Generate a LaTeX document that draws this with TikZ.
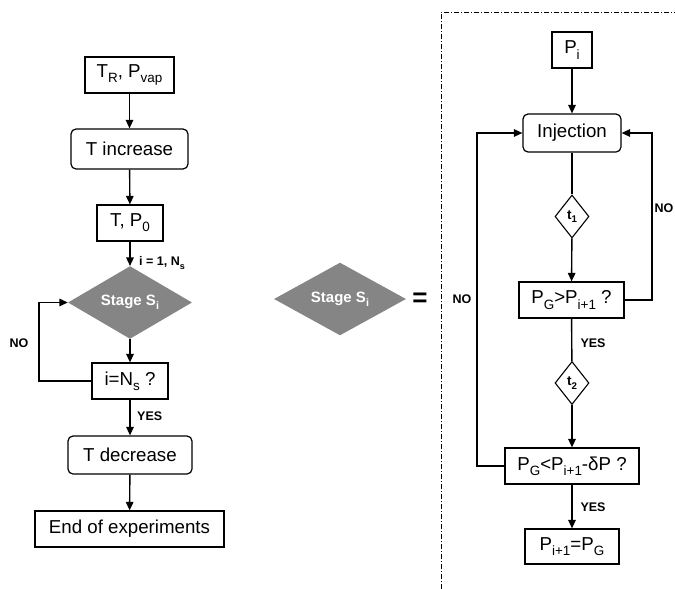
\documentclass[tikz,border=0pt]{standalone}
\usepackage{fontspec}
\setmainfont{Liberation Sans}
\usetikzlibrary{shapes.geometric,arrows.meta}
\newcommand\lo[1]{\raisebox{-0.28em}{\scalebox{0.72}{#1}}}
\begin{document}
\begin{tikzpicture}[x=1pt,y=-1pt,
  every node/.style={inner sep=0pt, font=\fontsize{18.7}{20}\selectfont},
  sq/.style={draw, line width=1.2pt, rectangle},
  rnd/.style={draw, line width=1.2pt, rectangle, rounded corners=5pt},
  stg/.style={diamond, fill=black!48, draw=none, text=white, font=\fontsize{15}{16}\selectfont\bfseries},
  tdia/.style={diamond, draw, line width=1.1pt, minimum width=34pt, minimum height=43pt, font=\fontsize{13.5}{14}\selectfont\bfseries},
  lbl/.style={font=\fontsize{12.5}{13}\selectfont\bfseries},
  arr/.style={line width=1.4pt, -{Triangle[length=8.5pt,width=7.5pt]}},
  ln/.style={line width=1.4pt}]
\useasboundingbox (0,0) rectangle (675,589);
% left column
\node[sq, minimum width=89pt, minimum height=36pt] (trp) at (129.5,75) {T\lo{R}, P\lo{vap}};
\node[rnd, minimum width=117pt, minimum height=40pt] (tinc) at (129.5,149) {T increase};
\node[sq, minimum width=66pt, minimum height=36pt] (tp0) at (130,223) {T, P\lo{0}};
\node[stg, minimum width=124pt, minimum height=49pt] (stage) at (130,302.5) {Stage S\lo{i}};
\node[sq, minimum width=76pt, minimum height=36pt] (ins) at (130,381) {i=N\lo{s} ?};
\node[rnd, minimum width=124pt, minimum height=38pt] (tdec) at (130,455) {T decrease};
\node[sq, minimum width=189pt, minimum height=36pt] (end) at (129.5,529) {End of experiments};
\draw[arr] (trp) -- (tinc);
\draw[arr] (tinc) -- (tp0);
\draw[arr] (tp0) -- (stage);
\draw[arr] (stage) -- (ins);
\draw[arr] (ins) -- (tdec);
\draw[arr] (tdec) -- (end);
\coordinate (lc) at (39,381);
\draw[arr] (ins.west) -- (lc) |- (stage.west);
\node[lbl, anchor=west] (l1) at (139,263) {i = 1, N\lo{s}};
\node[lbl, anchor=west] (l2) at (137,416) {YES};
\node[lbl] (l3) at (19,343) {NO};
% middle
\node[stg, minimum width=132pt, minimum height=50pt] (stage2) at (340,299) {Stage S\lo{i}};
\node[font=\fontsize{26}{26}\selectfont\bfseries] (eq) at (420,300) {=};
% frame
\draw[line width=0.9pt, dash pattern=on 5pt off 2pt on 1pt off 2pt] (441,589) -- (441,12) -- (675,12);
% right column
\node[sq, minimum width=40pt, minimum height=36pt] (pi) at (572,50) {P\lo{i}};
\node[rnd, minimum width=98pt, minimum height=38pt] (inj) at (572,133) {Injection};
\node[tdia] (t1) at (572,216.5) {t\lo{1}};
\node[sq, minimum width=105pt, minimum height=36pt] (pg) at (571.5,300) {P\lo{G}>P\lo{i+1} ?};
\node[tdia] (t2) at (572,383) {t\lo{2}};
\node[sq, minimum width=134pt, minimum height=36pt] (pgl) at (572,466) {P\lo{G}<P\lo{i+1}-δP ?};
\node[sq, minimum width=94pt, minimum height=35pt] (pf) at (572,546.5) {P\lo{i+1}=P\lo{G}};
\draw[arr] (pi) -- (inj);
\draw[ln] (inj) -- (t1);
\draw[arr] (t1) -- (pg);
\draw[ln] (pg) -- (t2);
\draw[arr] (t2) -- (pgl);
\draw[arr] (pgl) -- (pf);
\coordinate (rc) at (652,300);
\coordinate (lc2) at (477,466);
\draw[arr] (pg.east) -- (rc) |- (inj.east);
\draw[arr] (pgl.west) -- (lc2) |- (inj.west);
\node[lbl] (r1) at (664,208) {NO};
\node[lbl] (r2) at (462,299) {NO};
\node[lbl] (r3) at (593,343) {YES};
\node[lbl] (r4) at (593,507) {YES};
\end{tikzpicture}
\end{document}
